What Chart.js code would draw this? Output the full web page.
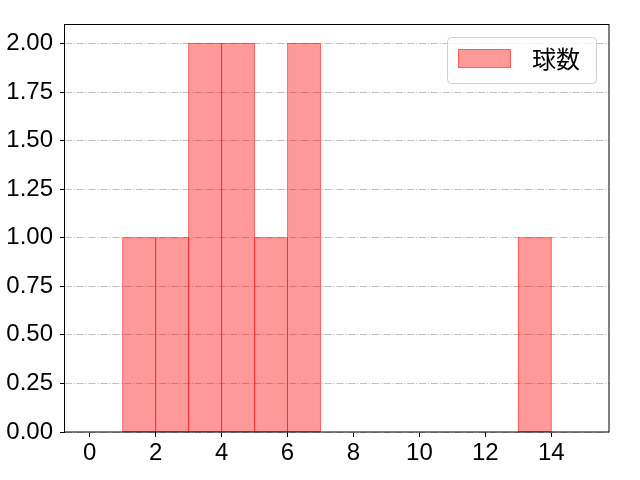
<!DOCTYPE html>
<html>
<head>
<meta charset="utf-8">
<script src="https://cdn.jsdelivr.net/npm/chart.js@4/dist/chart.umd.min.js"></script>
<style>
  html, body { margin: 0; padding: 0; background: #fff; }
  #wrap { width: 640px; height: 480px; }
</style>
</head>
<body>
<div id="wrap"><canvas id="hist" width="640" height="480"></canvas></div>
<script>
const binStarts = [1, 2, 3, 4, 5, 6, 13];
const counts = [1, 1, 2, 2, 1, 2, 1];
const xTicks = [0, 2, 4, 6, 8, 10, 12, 14];
const yTicks = [0, 0.25, 0.5, 0.75, 1.0, 1.25, 1.5, 1.75, 2.0];
const seriesLabel = '球数';

const FONT = "'Liberation Sans', 'Noto Sans CJK JP', sans-serif";
const CJK_FONT = "'Noto Sans CJK JP', sans-serif";
const barFill = 'rgba(255, 0, 0, 0.4)';
const barEdge = 'rgba(255, 0, 0, 0.4)';

// bar outlines centred on the bin edges, so shared edges look darker
const edgePlugin = {
    id: 'edgePlugin',
    afterDatasetsDraw: chart => {
        const { ctx } = chart;
        const meta = chart.getDatasetMeta(0);
        ctx.save();
        ctx.strokeStyle = barEdge;
        ctx.lineWidth = 1;
        meta.data.forEach(bar => {
            const { x, y, base, width } = bar.getProps(['x', 'y', 'base', 'width'], true);
            ctx.strokeRect(x - width / 2, y, width, base - y);
        });
        ctx.restore();
    }
};

// frame around the plot area, drawn over the bars like matplotlib spines
const framePlugin = {
    id: 'framePlugin',
    afterDraw: chart => {
        const { ctx, chartArea: a } = chart;
        ctx.save();
        ctx.strokeStyle = '#000';
        ctx.lineWidth = 1;
        ctx.strokeRect(Math.round(a.left) - 0.5, Math.round(a.top) + 0.5,
            Math.round(a.right - a.left) + 0.5, Math.round(a.bottom - a.top) - 0.5);
        ctx.restore();
    }
};

// legend box in the upper right corner, inside the axes
const legendPlugin = {
    id: 'legendPlugin',
    afterDraw: chart => {
        const { ctx, chartArea: a } = chart;
        const w = 149, h = 46;
        const x = a.right - 13 - w, y = a.top + 13;
        ctx.save();
        ctx.beginPath();
        ctx.roundRect(x + 0.5, y + 0.5, w, h, 4);
        ctx.fillStyle = 'rgba(255,255,255,0.8)';
        ctx.fill();
        ctx.strokeStyle = '#d0d0d0';
        ctx.lineWidth = 1;
        ctx.stroke();
        ctx.fillStyle = barFill;
        ctx.fillRect(x + 11, y + 12, 53, 19);
        ctx.strokeStyle = barEdge;
        ctx.strokeRect(x + 11.5, y + 12.5, 52, 18);
        ctx.fillStyle = '#000';
        ctx.font = '24px ' + CJK_FONT;
        ctx.textBaseline = 'middle';
        ctx.fillText(seriesLabel, x + 85, y + 22);
        ctx.restore();
    }
};

const ctx = document.getElementById('hist').getContext('2d');
new Chart(ctx, {
    type: 'bar',
    plugins: [edgePlugin, framePlugin, legendPlugin],
    data: {
        datasets: [{
            label: seriesLabel,
            data: binStarts.map((s, i) => ({ x: s + 0.5, y: counts[i] })),
            backgroundColor: barFill,
            borderWidth: 0,
            barPercentage: 1,
            categoryPercentage: 1
        }]
    },
    options: {
        responsive: false,
        animation: false,
        devicePixelRatio: 1,
        layout: { padding: { left: 0, right: 31, top: 24, bottom: 0 } },
        plugins: {
            legend: { display: false },
            tooltip: { enabled: false }
        },
        scales: {
            x: {
                type: 'linear',
                offset: false,
                min: -0.75,
                max: 15.75,
                afterBuildTicks: scale => {
                    scale.ticks = xTicks.map(v => ({ value: v }));
                },
                afterFit: scale => { scale.height = 48; },
                grid: {
                    offset: false,
                    drawOnChartArea: false,
                    drawTicks: true,
                    tickLength: 5,
                    tickColor: '#000',
                    tickWidth: 1
                },
                border: { display: false },
                ticks: {
                    padding: 2,
                    color: '#000',
                    font: { family: FONT, size: 24 },
                    maxRotation: 0,
                    callback: v => String(v)
                }
            },
            y: {
                min: 0,
                max: 2.1,
                afterBuildTicks: scale => {
                    scale.ticks = yTicks.map(v => ({ value: v }));
                },
                afterFit: scale => { scale.width = 65; },
                grid: {
                    color: '#b0b0b0',
                    lineWidth: 0.8,
                    drawTicks: true,
                    tickLength: 5,
                    tickColor: '#000',
                    tickWidth: 1,
                    tickBorderDash: []
                },
                border: { display: false, dash: [7.1, 1.8, 1.1, 1.8] },
                ticks: {
                    padding: 7,
                    color: '#000',
                    font: { family: FONT, size: 24 },
                    callback: v => Number(v).toFixed(2)
                }
            }
        }
    }
});
</script>
</body>
</html>
